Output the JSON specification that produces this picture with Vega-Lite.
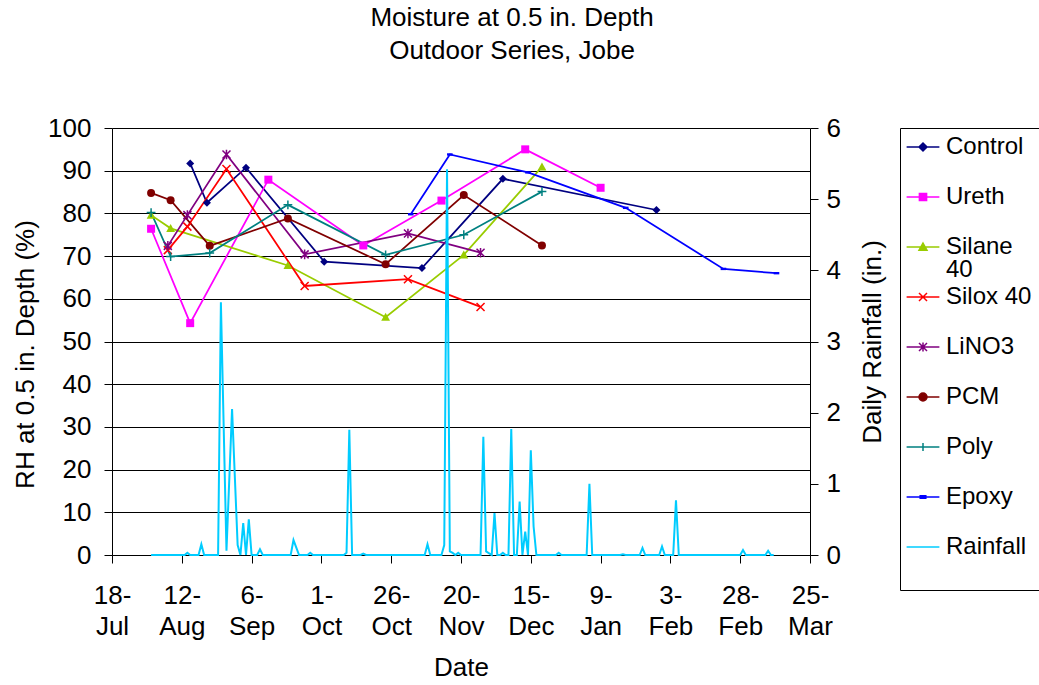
{
  "$schema": "https://vega.github.io/schema/vega-lite/v6.json",
  "width": 698,
  "height": 427,
  "autosize": {"type": "none"},
  "padding": {"left": 112, "top": 128, "right": 229, "bottom": 130},
  "background": "white",
  "title": {
    "text": ["Moisture at 0.5 in. Depth", "Outdoor Series, Jobe"],
    "font": "Liberation Sans",
    "fontSize": 26,
    "fontWeight": "normal",
    "color": "black",
    "lineHeight": 33,
    "anchor": "middle",
    "frame": "group",
    "dx": 51,
    "offset": 51
  },
  "datasets": {
    "rh": [
      {"series": "Control", "date": "2005-08-15", "rh": 91.7},
      {"series": "Control", "date": "2005-08-21", "rh": 82.5},
      {"series": "Control", "date": "2005-09-04", "rh": 90.7},
      {"series": "Control", "date": "2005-10-02", "rh": 68.7},
      {"series": "Control", "date": "2005-11-06", "rh": 67.2},
      {"series": "Control", "date": "2005-12-05", "rh": 88.1},
      {"series": "Control", "date": "2006-01-29", "rh": 80.8},
      {"series": "Ureth", "date": "2005-08-01", "rh": 76.4},
      {"series": "Ureth", "date": "2005-08-15", "rh": 54.3},
      {"series": "Ureth", "date": "2005-09-12", "rh": 87.9},
      {"series": "Ureth", "date": "2005-10-16", "rh": 72.5},
      {"series": "Ureth", "date": "2005-11-13", "rh": 83.0},
      {"series": "Ureth", "date": "2005-12-13", "rh": 95.0},
      {"series": "Ureth", "date": "2006-01-09", "rh": 86.0},
      {"series": "Silane 40", "date": "2005-08-01", "rh": 79.6},
      {"series": "Silane 40", "date": "2005-08-08", "rh": 76.5},
      {"series": "Silane 40", "date": "2005-09-19", "rh": 67.8},
      {"series": "Silane 40", "date": "2005-10-24", "rh": 55.7},
      {"series": "Silane 40", "date": "2005-11-21", "rh": 70.3},
      {"series": "Silane 40", "date": "2005-12-19", "rh": 90.9},
      {"series": "Silox 40", "date": "2005-08-07", "rh": 71.4},
      {"series": "Silox 40", "date": "2005-08-14", "rh": 76.9},
      {"series": "Silox 40", "date": "2005-08-28", "rh": 90.4},
      {"series": "Silox 40", "date": "2005-09-25", "rh": 63.0},
      {"series": "Silox 40", "date": "2005-11-01", "rh": 64.6},
      {"series": "Silox 40", "date": "2005-11-27", "rh": 58.1},
      {"series": "LiNO3", "date": "2005-08-07", "rh": 72.4},
      {"series": "LiNO3", "date": "2005-08-14", "rh": 79.6},
      {"series": "LiNO3", "date": "2005-08-28", "rh": 93.8},
      {"series": "LiNO3", "date": "2005-09-25", "rh": 70.4},
      {"series": "LiNO3", "date": "2005-11-01", "rh": 75.3},
      {"series": "LiNO3", "date": "2005-11-27", "rh": 70.8},
      {"series": "PCM", "date": "2005-08-01", "rh": 84.8},
      {"series": "PCM", "date": "2005-08-08", "rh": 83.1},
      {"series": "PCM", "date": "2005-08-22", "rh": 72.4},
      {"series": "PCM", "date": "2005-09-19", "rh": 78.8},
      {"series": "PCM", "date": "2005-10-24", "rh": 68.1},
      {"series": "PCM", "date": "2005-11-21", "rh": 84.3},
      {"series": "PCM", "date": "2005-12-19", "rh": 72.5},
      {"series": "Poly", "date": "2005-08-01", "rh": 80.2},
      {"series": "Poly", "date": "2005-08-08", "rh": 69.9},
      {"series": "Poly", "date": "2005-08-22", "rh": 70.7},
      {"series": "Poly", "date": "2005-09-19", "rh": 82.0},
      {"series": "Poly", "date": "2005-10-24", "rh": 70.3},
      {"series": "Poly", "date": "2005-11-21", "rh": 75.0},
      {"series": "Poly", "date": "2005-12-19", "rh": 85.1},
      {"series": "Epoxy", "date": "2005-11-02", "rh": 79.8},
      {"series": "Epoxy", "date": "2005-11-16", "rh": 93.8},
      {"series": "Epoxy", "date": "2005-12-14", "rh": 89.6},
      {"series": "Epoxy", "date": "2006-01-18", "rh": 81.3},
      {"series": "Epoxy", "date": "2006-02-22", "rh": 67.0},
      {"series": "Epoxy", "date": "2006-03-13", "rh": 66.0}
    ],
    "rain": [
      {"series": "Rainfall", "date": "2005-08-01", "rain": 0},
      {"series": "Rainfall", "date": "2005-08-13", "rain": 0},
      {"series": "Rainfall", "date": "2005-08-14", "rain": 0.03},
      {"series": "Rainfall", "date": "2005-08-15", "rain": 0},
      {"series": "Rainfall", "date": "2005-08-18", "rain": 0},
      {"series": "Rainfall", "date": "2005-08-19", "rain": 0.15},
      {"series": "Rainfall", "date": "2005-08-20", "rain": 0},
      {"series": "Rainfall", "date": "2005-08-25", "rain": 0},
      {"series": "Rainfall", "date": "2005-08-26", "rain": 3.55},
      {"series": "Rainfall", "date": "2005-08-28", "rain": 0.06},
      {"series": "Rainfall", "date": "2005-08-30", "rain": 2.05},
      {"series": "Rainfall", "date": "2005-09-01", "rain": 0.14},
      {"series": "Rainfall", "date": "2005-09-02", "rain": 0},
      {"series": "Rainfall", "date": "2005-09-03", "rain": 0.45},
      {"series": "Rainfall", "date": "2005-09-04", "rain": 0},
      {"series": "Rainfall", "date": "2005-09-05", "rain": 0.5},
      {"series": "Rainfall", "date": "2005-09-06", "rain": 0},
      {"series": "Rainfall", "date": "2005-09-08", "rain": 0},
      {"series": "Rainfall", "date": "2005-09-09", "rain": 0.08},
      {"series": "Rainfall", "date": "2005-09-10", "rain": 0},
      {"series": "Rainfall", "date": "2005-09-20", "rain": 0},
      {"series": "Rainfall", "date": "2005-09-21", "rain": 0.21},
      {"series": "Rainfall", "date": "2005-09-23", "rain": 0},
      {"series": "Rainfall", "date": "2005-09-26", "rain": 0},
      {"series": "Rainfall", "date": "2005-09-27", "rain": 0.03},
      {"series": "Rainfall", "date": "2005-09-28", "rain": 0},
      {"series": "Rainfall", "date": "2005-10-09", "rain": 0},
      {"series": "Rainfall", "date": "2005-10-10", "rain": 0.03},
      {"series": "Rainfall", "date": "2005-10-11", "rain": 1.76},
      {"series": "Rainfall", "date": "2005-10-12", "rain": 0},
      {"series": "Rainfall", "date": "2005-10-15", "rain": 0},
      {"series": "Rainfall", "date": "2005-10-16", "rain": 0.02},
      {"series": "Rainfall", "date": "2005-10-17", "rain": 0},
      {"series": "Rainfall", "date": "2005-11-07", "rain": 0},
      {"series": "Rainfall", "date": "2005-11-08", "rain": 0.15},
      {"series": "Rainfall", "date": "2005-11-09", "rain": 0},
      {"series": "Rainfall", "date": "2005-11-13", "rain": 0},
      {"series": "Rainfall", "date": "2005-11-14", "rain": 0.14},
      {"series": "Rainfall", "date": "2005-11-15", "rain": 5.42},
      {"series": "Rainfall", "date": "2005-11-16", "rain": 0.05},
      {"series": "Rainfall", "date": "2005-11-17", "rain": 0.03},
      {"series": "Rainfall", "date": "2005-11-18", "rain": 0},
      {"series": "Rainfall", "date": "2005-11-19", "rain": 0.03},
      {"series": "Rainfall", "date": "2005-11-20", "rain": 0},
      {"series": "Rainfall", "date": "2005-11-27", "rain": 0},
      {"series": "Rainfall", "date": "2005-11-28", "rain": 1.66},
      {"series": "Rainfall", "date": "2005-11-29", "rain": 0.05},
      {"series": "Rainfall", "date": "2005-12-01", "rain": 0},
      {"series": "Rainfall", "date": "2005-12-02", "rain": 0.59},
      {"series": "Rainfall", "date": "2005-12-03", "rain": 0},
      {"series": "Rainfall", "date": "2005-12-04", "rain": 0},
      {"series": "Rainfall", "date": "2005-12-05", "rain": 0.03},
      {"series": "Rainfall", "date": "2005-12-06", "rain": 0},
      {"series": "Rainfall", "date": "2005-12-07", "rain": 0},
      {"series": "Rainfall", "date": "2005-12-08", "rain": 1.77},
      {"series": "Rainfall", "date": "2005-12-09", "rain": 0},
      {"series": "Rainfall", "date": "2005-12-10", "rain": 0},
      {"series": "Rainfall", "date": "2005-12-11", "rain": 0.75},
      {"series": "Rainfall", "date": "2005-12-12", "rain": 0},
      {"series": "Rainfall", "date": "2005-12-13", "rain": 0.33},
      {"series": "Rainfall", "date": "2005-12-14", "rain": 0},
      {"series": "Rainfall", "date": "2005-12-15", "rain": 1.47},
      {"series": "Rainfall", "date": "2005-12-16", "rain": 0.4},
      {"series": "Rainfall", "date": "2005-12-17", "rain": 0},
      {"series": "Rainfall", "date": "2005-12-24", "rain": 0},
      {"series": "Rainfall", "date": "2005-12-25", "rain": 0.03},
      {"series": "Rainfall", "date": "2005-12-26", "rain": 0},
      {"series": "Rainfall", "date": "2006-01-04", "rain": 0},
      {"series": "Rainfall", "date": "2006-01-05", "rain": 1.0},
      {"series": "Rainfall", "date": "2006-01-06", "rain": 0},
      {"series": "Rainfall", "date": "2006-01-16", "rain": 0},
      {"series": "Rainfall", "date": "2006-01-17", "rain": 0.01},
      {"series": "Rainfall", "date": "2006-01-18", "rain": 0},
      {"series": "Rainfall", "date": "2006-01-23", "rain": 0},
      {"series": "Rainfall", "date": "2006-01-24", "rain": 0.1},
      {"series": "Rainfall", "date": "2006-01-25", "rain": 0},
      {"series": "Rainfall", "date": "2006-01-30", "rain": 0},
      {"series": "Rainfall", "date": "2006-01-31", "rain": 0.12},
      {"series": "Rainfall", "date": "2006-02-01", "rain": 0},
      {"series": "Rainfall", "date": "2006-02-04", "rain": 0},
      {"series": "Rainfall", "date": "2006-02-05", "rain": 0.77},
      {"series": "Rainfall", "date": "2006-02-06", "rain": 0},
      {"series": "Rainfall", "date": "2006-02-28", "rain": 0},
      {"series": "Rainfall", "date": "2006-03-01", "rain": 0.07},
      {"series": "Rainfall", "date": "2006-03-02", "rain": 0},
      {"series": "Rainfall", "date": "2006-03-09", "rain": 0},
      {"series": "Rainfall", "date": "2006-03-10", "rain": 0.06},
      {"series": "Rainfall", "date": "2006-03-11", "rain": 0},
      {"series": "Rainfall", "date": "2006-03-12", "rain": 0}
    ]
  },
  "layer": [
    {
      "data": {"name": "rh"},
      "mark": {"type": "line", "strokeWidth": 1.75},
      "encoding": {
        "x": {
          "field": "date", "type": "temporal",
          "scale": {"type": "utc", "domain": [{"year": 2005, "month": 7, "date": 18, "utc": true}, {"year": 2006, "month": 3, "date": 25, "utc": true}]},
          "axis": {
            "values": [
              {"year": 2005, "month": 7, "date": 18, "utc": true},
              {"year": 2005, "month": 8, "date": 12, "utc": true},
              {"year": 2005, "month": 9, "date": 6, "utc": true},
              {"year": 2005, "month": 10, "date": 1, "utc": true},
              {"year": 2005, "month": 10, "date": 26, "utc": true},
              {"year": 2005, "month": 11, "date": 20, "utc": true},
              {"year": 2005, "month": 12, "date": 15, "utc": true},
              {"year": 2006, "month": 1, "date": 9, "utc": true},
              {"year": 2006, "month": 2, "date": 3, "utc": true},
              {"year": 2006, "month": 2, "date": 28, "utc": true},
              {"year": 2006, "month": 3, "date": 25, "utc": true}
            ],
            "labelExpr": "[utcFormat(datum.value, '%-d') + '-', utcFormat(datum.value, '%b')]",
            "labelAlign": "center", "labelBaseline": "top", "labelPadding": 19, "labelLineHeight": 31,
            "labelFlush": false, "labelOverlap": false, "labelBound": false,
            "grid": false, "title": "Date", "titlePadding": 15
          }
        },
        "y": {
          "field": "rh", "type": "quantitative",
          "scale": {"domain": [0, 100], "nice": false, "zero": false},
          "axis": {
            "orient": "left", "values": [0, 10, 20, 30, 40, 50, 60, 70, 80, 90, 100],
            "grid": true, "gridColor": "black", "gridWidth": 1, "gridOpacity": 1,
            "domain": true, "ticks": true,
            "labelPadding": 13, "title": "RH at 0.5 in. Depth (%)", "titlePadding": 9, "titleY": 226
          }
        },
        "color": {
          "field": "series", "type": "nominal",
          "scale": {
            "domain": ["Control", "Ureth", "Silane 40", "Silox 40", "LiNO3", "PCM", "Poly", "Epoxy", "Rainfall"],
            "range": ["#000080", "#FF00FF", "#99CC00", "#FF0000", "#800080", "#800000", "#008080", "#0000FF", "#00CCFF"]
          },
          "legend": {
            "orient": "none", "legendX": 788, "legendY": 0,
            "title": " ", "titleOrient": "bottom", "titleFontSize": 12, "titlePadding": 13,
            "padding": 7, "strokeColor": "black", "fillColor": "white",
            "symbolSize": 64, "symbolStrokeWidth": 1.5, "symbolOffset": 4, "labelOffset": 11,
            "labelFont": "Liberation Sans", "labelFontSize": 24, "labelColor": "black", "labelLimit": 300,
            "rowPadding": 3, "gridAlign": "all",
            "labelExpr": "datum.label == 'Silane 40' ? ['Silane', '40'] : datum.label",
            "encode": {
              "symbols": {"update": {
                "shape": {"signal": "['M-4.1,0H4.1M0,-1L1,0L0,1L-1,0Z','M-4.1,0H4.1M-0.9,-0.9H0.9V0.9H-0.9Z','M-4.1,0H4.1M0,-1L1,0.8H-1Z','M-4.1,0H4.1M-1,-1L1,1M-1,1L1,-1','M-4.1,0H4.1M-1,-1L1,1M-1,1L1,-1M0,-1.1V1.1','M-4.1,0H4.1M-1,0A1,1 0 1,1 1,0A1,1 0 1,1 -1,0Z','M-4.1,0H4.1M0,-1V1','M-4.1,0H4.1M-0.7,-0.3H0.7V0.3H-0.7Z','M-4.1,0H4.1'][indexof(['Control','Ureth','Silane 40','Silox 40','LiNO3','PCM','Poly','Epoxy','Rainfall'], datum.value)]"},
                "fill": {"signal": "['#000080','#FF00FF','#99CC00','#FF0000','#800080','#800000','#008080','#0000FF','#00CCFF'][indexof(['Control','Ureth','Silane 40','Silox 40','LiNO3','PCM','Poly','Epoxy','Rainfall'], datum.value)]"},
                "stroke": {"signal": "['#000080','#FF00FF','#99CC00','#FF0000','#800080','#800000','#008080','#0000FF','#00CCFF'][indexof(['Control','Ureth','Silane 40','Silox 40','LiNO3','PCM','Poly','Epoxy','Rainfall'], datum.value)]"},
                "strokeWidth": {"value": 1.5},
                "size": {"value": 64},
                "opacity": {"value": 1}
              }},
              "labels": {"update": {"lineHeight": {"value": 23}}}
            }
          }
        }
      }
    },
    {
      "data": {"name": "rh"},
      "transform": [{"filter": {"field": "series", "oneOf": ["Control", "Ureth", "Silane 40", "PCM", "Epoxy"]}}],
      "mark": {"type": "point", "filled": true, "opacity": 1, "size": 64},
      "encoding": {
        "x": {"field": "date", "type": "temporal"},
        "y": {"field": "rh", "type": "quantitative", "scale": {"domain": [0, 100], "nice": false, "zero": false}, "axis": null},
        "color": {"field": "series", "type": "nominal"},
        "shape": {
          "field": "series", "type": "nominal",
          "scale": {
            "domain": ["Control", "Ureth", "Silane 40", "Silox 40", "LiNO3", "PCM", "Poly", "Epoxy"],
            "range": ["M0,-1L1,0L0,1L-1,0Z", "M-1,-1H1V1H-1Z", "M0,-1.1L1.1,0.9H-1.1Z", "M-1,-1L1,1M-1,1L1,-1", "M-1,-1L1,1M-1,1L1,-1M0,-1.2V1.2", "circle", "M-1.1,0H1.1M0,-1.1V1.1", "M-0.7,-0.3H0.7V0.3H-0.7Z"]
          },
          "legend": null
        }
      }
    },
    {
      "data": {"name": "rh"},
      "transform": [{"filter": {"field": "series", "oneOf": ["Silox 40", "LiNO3", "Poly"]}}],
      "mark": {"type": "point", "filled": false, "opacity": 1, "size": 64, "strokeWidth": 1.5},
      "encoding": {
        "x": {"field": "date", "type": "temporal"},
        "y": {"field": "rh", "type": "quantitative", "scale": {"domain": [0, 100], "nice": false, "zero": false}, "axis": null},
        "color": {"field": "series", "type": "nominal"},
        "shape": {
          "field": "series", "type": "nominal",
          "scale": {
            "domain": ["Control", "Ureth", "Silane 40", "Silox 40", "LiNO3", "PCM", "Poly", "Epoxy"],
            "range": ["M0,-1L1,0L0,1L-1,0Z", "M-1,-1H1V1H-1Z", "M0,-1.1L1.1,0.9H-1.1Z", "M-1,-1L1,1M-1,1L1,-1", "M-1,-1L1,1M-1,1L1,-1M0,-1.2V1.2", "circle", "M-1.1,0H1.1M0,-1.1V1.1", "M-0.7,-0.3H0.7V0.3H-0.7Z"]
          },
          "legend": null
        }
      }
    },
    {
      "data": {"name": "rain"},
      "mark": {"type": "line", "strokeWidth": 2},
      "encoding": {
        "x": {"field": "date", "type": "temporal"},
        "y": {
          "field": "rain", "type": "quantitative",
          "scale": {"domain": [0, 6], "nice": false, "zero": false},
          "axis": {
            "orient": "right", "values": [0, 1, 2, 3, 4, 5, 6], "grid": false,
            "labelPadding": 8, "title": "Daily Rainfall (in.)", "titleAngle": 270, "titleBaseline": "top", "titlePadding": 19
          }
        },
        "color": {"field": "series", "type": "nominal"}
      }
    }
  ],
  "resolve": {"scale": {"y": "independent"}},
  "config": {
    "view": {"stroke": null},
    "axis": {
      "labelFont": "Liberation Sans", "labelFontSize": 26, "labelColor": "black",
      "titleFont": "Liberation Sans", "titleFontSize": 26, "titleFontWeight": "normal", "titleColor": "black",
      "domainColor": "black", "domainWidth": 1, "tickColor": "black", "tickWidth": 1, "tickSize": 8
    }
  }
}
